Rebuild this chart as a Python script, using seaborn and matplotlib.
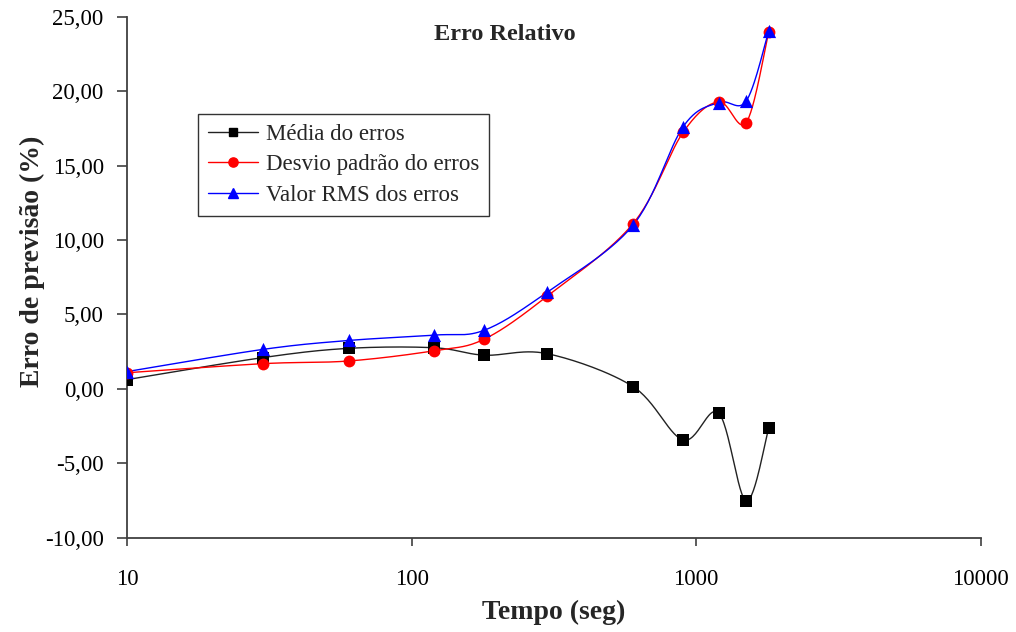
import numpy as np
import pandas as pd
import matplotlib
matplotlib.use("Agg")
import matplotlib.pyplot as plt
from matplotlib.lines import Line2D
from matplotlib.ticker import FuncFormatter, FixedLocator, NullLocator
import seaborn as sns

# ---- data ----
tempo = [10, 30, 60, 120, 180, 300, 600, 900, 1200, 1500, 1800]
media = [0.62, 2.10, 2.72, 2.76, 2.26, 2.36, 0.15, -3.44, -1.63, -7.54, -2.64]
desvio = [1.08, 1.69, 1.87, 2.56, 3.34, 6.24, 11.10, 17.25, 19.30, 17.90, 24.00]
rms = [1.16, 2.65, 3.25, 3.61, 3.94, 6.51, 11.00, 17.62, 19.25, 19.35, 24.05]

series_names = ["Média do erros", "Desvio padrão do erros", "Valor RMS dos erros"]
y_ticks = [-10, -5, 0, 5, 10, 15, 20, 25]
x_ticks = [10, 100, 1000, 10000]

sns.set_theme(style="ticks")
plt.rcParams["font.family"] = ["Liberation Serif", "DejaVu Serif"]


def smooth(xs, ys, n=30):
    """Catmull-Rom smoothing in (log10 x, y) space, like a spreadsheet 'smoothed line'."""
    lx = np.log10(np.asarray(xs, float))
    yy = np.asarray(ys, float)
    P = np.column_stack([lx, yy])
    P = np.vstack([P[0], P, P[-1]])
    out = []
    t = np.linspace(0, 1, n)[:, None]
    for i in range(1, len(P) - 2):
        p0, p1, p2, p3 = P[i - 1], P[i], P[i + 1], P[i + 2]
        c1 = p1 + (p2 - p0) / 6.0
        c2 = p2 - (p3 - p1) / 6.0
        seg = ((1 - t) ** 3) * p1 + 3 * ((1 - t) ** 2) * t * c1 + 3 * (1 - t) * t ** 2 * c2 + t ** 3 * p2
        out.append(seg if i == 1 else seg[1:])
    out = np.vstack(out)
    return 10 ** out[:, 0], out[:, 1]


fig = plt.figure(figsize=(10.16, 6.32), dpi=100)
ax = fig.add_axes([0.1253, 0.1495, 0.8398, 0.8236])

styles = [
    (media, "#222222", "#000000", "s", 8.0),
    (desvio, "#ff0000", "#ff0000", "o", 8.5),
    (rms, "#0000ff", "#0000ff", "^", 9.5),
]

handles = []
for (vals, lc, mc, mk, ms), name in zip(styles, series_names):
    sx, sy = smooth(tempo, vals)
    df_line = pd.DataFrame({"x": sx, "y": sy})
    sns.lineplot(data=df_line, x="x", y="y", sort=False, estimator=None,
                 color=lc, linewidth=1.0, ax=ax)
    df_pts = pd.DataFrame({"x": tempo, "y": vals})
    sns.scatterplot(data=df_pts, x="x", y="y", marker=mk, s=ms ** 2,
                    color=mc, edgecolor=mc, linewidth=0, ax=ax, zorder=3)
    handles.append(Line2D([0], [0], color=lc, linewidth=1.0, marker=mk,
                          markersize=ms * 0.78, markerfacecolor=mc,
                          markeredgecolor=mc, label=name))

ax.set_xscale("log")
ax.set_xlim(10, 10000)
ax.set_ylim(-10, 25)
ax.xaxis.set_major_locator(FixedLocator(x_ticks))
ax.xaxis.set_minor_locator(NullLocator())
ax.xaxis.set_major_formatter(FuncFormatter(lambda v, p: f"{int(round(v))}"))
ax.yaxis.set_major_locator(FixedLocator(y_ticks))
ax.yaxis.set_major_formatter(FuncFormatter(lambda v, p: f"{v:.2f}".replace(".", ",")))

for s in ["top", "right"]:
    ax.spines[s].set_visible(False)
for s in ["left", "bottom"]:
    ax.spines[s].set_color("#404040")
    ax.spines[s].set_linewidth(1.3)

ax.tick_params(axis="y", direction="out", length=7, width=1.2, color="#404040",
               labelsize=16.5, pad=10, labelcolor="black")
ax.tick_params(axis="x", direction="out", length=6, width=1.2, color="#404040",
               labelsize=16.5, pad=17, labelcolor="black")

ax.set_xlabel("Tempo (seg)", fontsize=20, fontweight="bold", labelpad=7)
ax.set_ylabel("Erro de previsão (%)", fontsize=20, fontweight="bold", labelpad=0)
ax.yaxis.label.set_y(0.53)

fig.text(0.497, 0.946, "Erro Relativo", ha="center", va="center",
         fontsize=17.5, fontweight="bold")

leg = ax.legend(handles=handles, loc="upper left", bbox_to_anchor=(0.083, 0.8136),
                borderaxespad=0, frameon=True, fancybox=False, fontsize=16.5,
                handlelength=2.2, handletextpad=0.35, labelspacing=0.42,
                borderpad=0.42)
leg.get_frame().set_edgecolor("black")
leg.get_frame().set_linewidth(1.0)

fig.savefig("out.png", dpi=100, facecolor="white")
